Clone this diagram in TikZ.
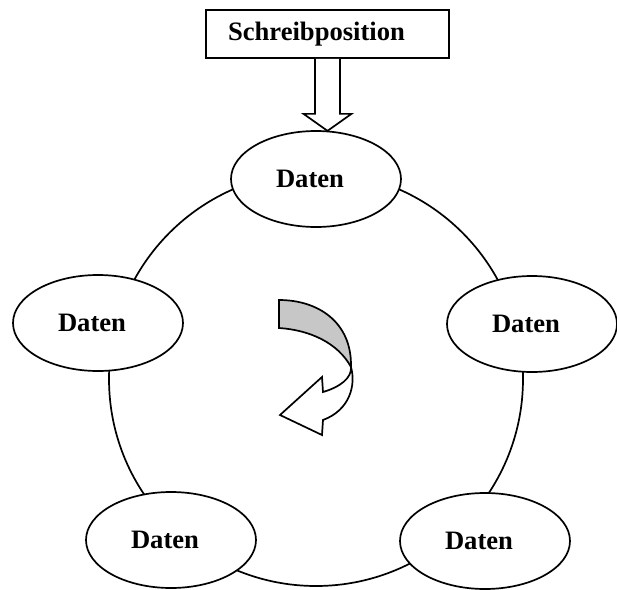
\documentclass[tikz,border=0pt]{standalone}
\usepackage{fontspec}
\setmainfont{Liberation Serif}
\usetikzlibrary{shapes,positioning,calc}

\begin{document}
\begin{tikzpicture}[x=0.5pt, y=-0.5pt, line width=0.85pt,
    dat/.style={draw, ellipse, fill=white, minimum width=85pt, minimum height=48pt,
        inner sep=0pt, font=\fontsize{13.3}{16}\selectfont\bfseries},
    posbox/.style={draw, rectangle, fill=white, minimum width=121.5pt, minimum height=24pt,
        inner sep=0pt, font=\fontsize{13.3}{16}\selectfont\bfseries}]
    \useasboundingbox (0,0) rectangle (617,590);

    % Ring
    \coordinate (ring) at (316,379);
    \draw (ring) circle[radius=103.5pt];

    % Data cells
    \node[dat] (d1) at (316,179) {\hspace*{-6pt}Daten};
    \node[dat] (d2) at (532,324) {\hspace*{-6pt}Daten};
    \node[dat] (d3) at (485,541) {\hspace*{-6pt}Daten};
    \node[dat] (d4) at (171,540) {\hspace*{-6pt}Daten};
    \node[dat] (d5) at (98,323) {\hspace*{-6pt}Daten};

    % Write position
    \node[posbox] (wpos) at (327.5,34) {\hspace*{-11pt}\raisebox{-1pt}{Schreibposition}};
    \draw[fill=white] ([shift={(-12.5,0)}]wpos.south) -- ([shift={(-12.5,55)}]wpos.south)
        -- ([shift={(-24,55)}]wpos.south) -- ([shift={(0,72)}]wpos.south)
        -- ([shift={(24,55)}]wpos.south) -- ([shift={(12.5,55)}]wpos.south)
        -- ([shift={(12.5,0)}]wpos.south);

    % Turning arrow
    \draw[fill=black!22] (279,300) .. controls (318,300) and (352,322) .. (351,367)
        .. controls (338,343) and (310,330) .. (279,328) -- cycle;
    \draw[fill=white] (351,367) .. controls (352,378) and (340,387) .. (323,392)
        -- (322,377) -- (280,415) -- (322,435) -- (323,420)
        .. controls (350,410) and (356,385) .. (351,367) -- cycle;
\end{tikzpicture}
\end{document}
